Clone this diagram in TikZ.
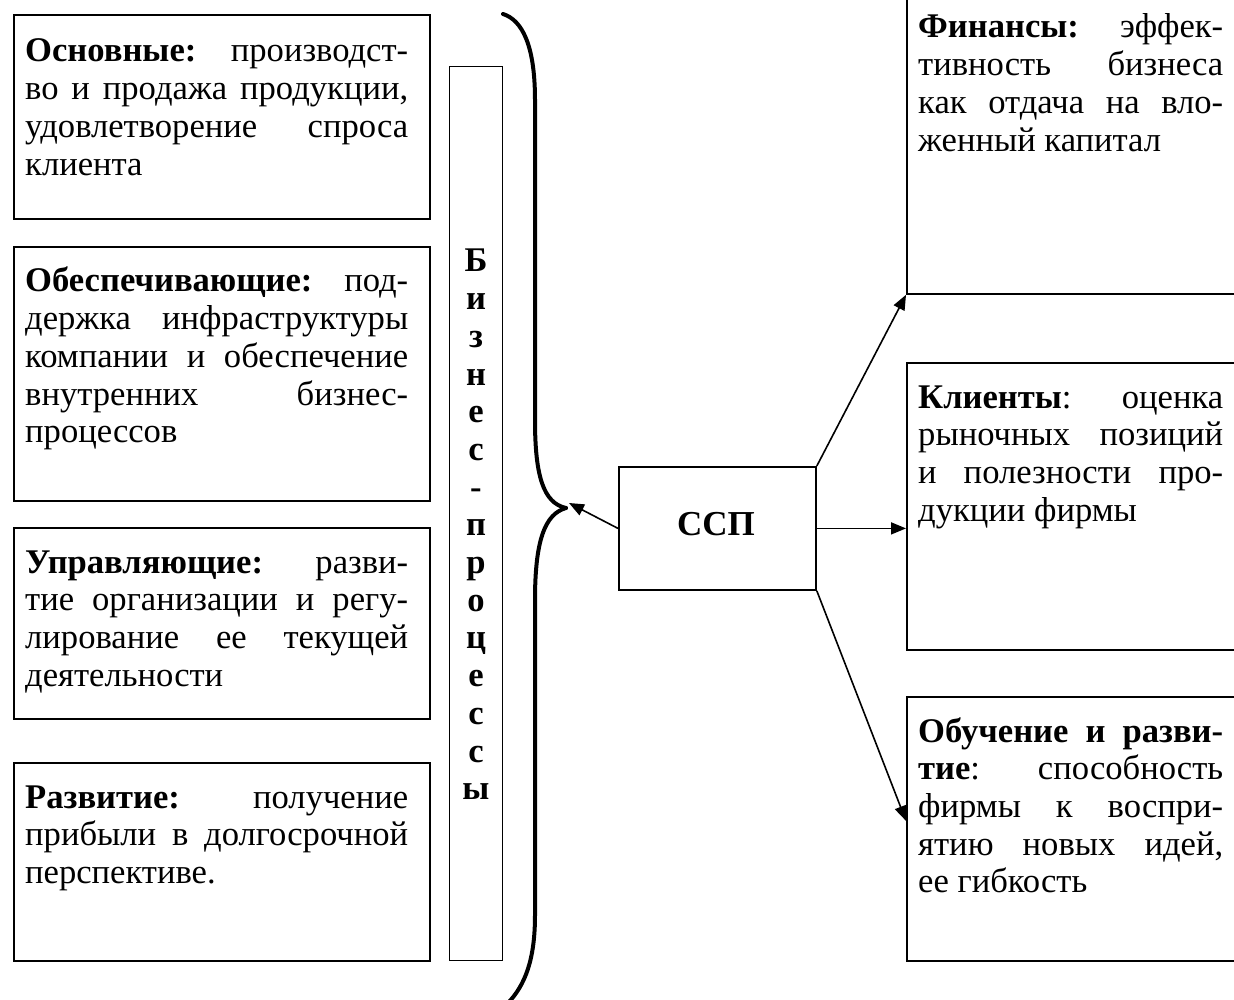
\documentclass[tikz,border=0pt]{standalone}
\usepackage{fontspec}
\setmainfont{Liberation Serif}
\usetikzlibrary{arrows.meta}

% body text: size and leading
\newcommand{\bodyfont}{\fontsize{34.6}{37.7}\selectfont}
% one justified line of a fixed width
\newcommand{\jl}[1]{\makebox[\linewidth][s]{#1}}
% a top-aligned text block whose first baseline is the reference point
\newcommand{\txtblock}[2]{\parbox[t]{#1}{\bodyfont\raggedright #2}}

\begin{document}
\begin{tikzpicture}[x=1pt,y=-1pt,
  box/.style={draw, line width=1.8pt, inner sep=0, anchor=north west},
  colbox/.style={draw, line width=1.4pt, inner sep=0, anchor=north west},
  txt/.style={inner sep=0, anchor=base west},
  conn/.style={line width=1.6pt, -{Triangle[length=15pt,width=12pt]}},
  bracepath/.style={line width=4pt, line cap=round}
]
\useasboundingbox (0,0) rectangle (1234,1000);
\clip (0,0) rectangle (1234,1000);

% ---------- left column: process groups ----------
\node[box, minimum width=416pt, minimum height=204pt] (b1) at (13,14) {};
\node[box, minimum width=416pt, minimum height=254pt] (b2) at (13,246) {};
\node[box, minimum width=416pt, minimum height=191pt] (b3) at (13,527) {};
\node[box, minimum width=416pt, minimum height=198pt] (b4) at (13,762) {};

\node[txt] (t1) at (25,62) {\txtblock{383pt}{%
  \jl{\textbf{Основные:} производст-}\\
  \jl{во и продажа продукции,}\\
  \jl{удовлетворение спроса}\\
  клиента}};
\node[txt] (t2) at (25,292) {\txtblock{383pt}{%
  \jl{\textbf{Обеспечивающие:} под-}\\
  \jl{держка инфраструктуры}\\
  \jl{компании и обеспечение}\\
  \jl{внутренних бизнес-}\\
  процессов}};
\node[txt] (t3) at (25,573) {\txtblock{383pt}{%
  \jl{\textbf{Управляющие:} разви-}\\
  \jl{тие организации и регу-}\\
  \jl{лирование ее текущей}\\
  деятельности}};
\node[txt] (t4) at (25,808) {\txtblock{383pt}{%
  \jl{\textbf{Развитие:} получение}\\
  \jl{прибыли в долгосрочной}\\
  перспективе.}};

% ---------- vertical caption ----------
\node[colbox, minimum width=53pt, minimum height=894pt] (col) at (449,66) {};
\node[inner sep=0, anchor=base] (coltxt) at (476,272) {\parbox[t]{40pt}{\centering
  \bodyfont\bfseries Б\\и\\з\\н\\е\\с\\-\\п\\р\\о\\ц\\е\\с\\с\\ы}};

% ---------- brace ----------
\coordinate (btip) at (566,508);
\draw[bracepath] (503,14) .. controls (522,20) and (535,45) .. (535,100)
  -- (535,420) .. controls (535,475) and (543,503) .. (btip);
\draw[bracepath] (btip) .. controls (545,514) and (535,540) .. (535,600)
  -- (535,915) .. controls (535,960) and (525,985) .. (508,1003);

% ---------- centre ----------
\node[box, minimum width=197pt, minimum height=123pt] (ssp) at (618,466) {};
\node[inner sep=0, anchor=base, font=\fontsize{35}{40}\selectfont\bfseries] (ssptxt) at (716,535) {ССП};

% ---------- right column: perspectives ----------
\node[box, minimum width=360pt, minimum height=320pt] (fa) at (906,-27) {};
\node[box, minimum width=360pt, minimum height=287pt] (cl) at (906,362) {};
\node[box, minimum width=360pt, minimum height=264pt] (ed) at (906,696) {};

\node[txt] (tf) at (918,38) {\txtblock{305pt}{%
  \jl{\textbf{Финансы:} эффек-}\\
  \jl{тивность бизнеса}\\
  \jl{как отдача на вло-}\\
  женный капитал}};
\node[txt] (tc) at (918,408) {\txtblock{305pt}{%
  \jl{\textbf{Клиенты}: оценка}\\
  \jl{рыночных позиций}\\
  \jl{и полезности про-}\\
  дукции фирмы}};
\node[txt] (te) at (918,742) {\txtblock{305pt}{%
  \jl{\textbf{Обучение и разви-}}\\
  \jl{\textbf{тие}: способность}\\
  \jl{фирмы к воспри-}\\
  \jl{ятию новых идей,}\\
  ее гибкость}};

% ---------- connectors ----------
\draw[conn] (ssp.west) -- ([xshift=3pt,yshift=5pt]btip);
\draw[conn] (ssp.north east) -- (fa.south west);
\draw[conn] (ssp.east) -- (ssp.east -| cl.west);
\draw[conn] (ssp.south east) -- ([yshift=8pt]ed.west);
\end{tikzpicture}
\end{document}
